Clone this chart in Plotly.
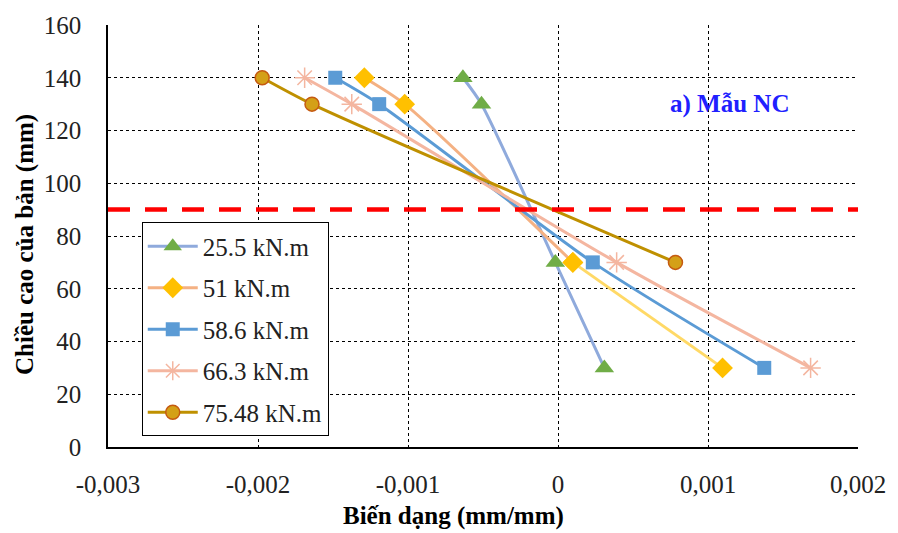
import plotly.graph_objects as go

# ---- data ----
heights4 = [140, 130, 70, 30]
heights3 = [140, 130, 70]
s_255 = [-0.000634, -0.000510, -0.000018, 0.000309]
s_51 = [-0.001291, -0.001022, 0.000099, 0.001097]
s_586 = [-0.001485, -0.001192, 0.000232, 0.001375]
s_663 = [-0.001689, -0.001375, 0.000391, 0.001684]
s_7548 = [-0.001972, -0.001640, 0.000783]
neutral_axis = 90
x_ticks = [-0.003, -0.002, -0.001, 0, 0.001, 0.002]
x_tick_labels = ["-0,003", "-0,002", "-0,001", "0", "0,001", "0,002"]
y_ticks = [0, 20, 40, 60, 80, 100, 120, 140, 160]

FONT = "Liberation Serif"
FS = 25
SM = 0.7

fig = go.Figure()

fig.add_trace(go.Scatter(
    x=s_255, y=heights4, name="25.5 kN.m", legendgroup="a",
    mode="lines+markers", line=dict(color="#8FAADC", width=3, shape="spline", smoothing=SM),
    marker=dict(symbol="triangle-up", size=17, color="#70AD47")))

fig.add_trace(go.Scatter(
    x=s_51[:3], y=heights4[:3], name="51 kN.m", legendgroup="b",
    mode="lines+markers", line=dict(color="#F4B183", width=3, shape="spline", smoothing=SM),
    marker=dict(symbol="diamond", size=16, color="#FFC000")))
fig.add_trace(go.Scatter(
    x=s_51[2:], y=heights4[2:], name="51 kN.m", legendgroup="b", showlegend=False,
    mode="lines+markers", line=dict(color="#FFD966", width=3),
    marker=dict(symbol="diamond", size=16, color="#FFC000")))

fig.add_trace(go.Scatter(
    x=s_586, y=heights4, name="58.6 kN.m", legendgroup="c",
    mode="lines+markers", line=dict(color="#5B9BD5", width=3, shape="spline", smoothing=SM),
    marker=dict(symbol="square", size=14, color="#5B9BD5")))

fig.add_trace(go.Scatter(
    x=s_663, y=heights4, name="66.3 kN.m", legendgroup="d",
    mode="lines+markers", line=dict(color="#F4B6A0", width=3, shape="spline", smoothing=SM),
    marker=dict(symbol="asterisk-open", size=17, color="#F4B6A0",
                line=dict(color="#F4B6A0", width=1.5))))

fig.add_trace(go.Scatter(
    x=s_7548, y=heights3, name="75.48 kN.m", legendgroup="e",
    mode="lines+markers", line=dict(color="#BF9000", width=3, shape="spline", smoothing=SM),
    marker=dict(symbol="circle", size=14, color="#D4A017",
                line=dict(color="#C55A11", width=1.5))))

fig.add_hline(y=neutral_axis, line=dict(color="#FF0000", width=4.5, dash="22px,15px"))

fig.add_annotation(x=0.00114, y=130, xref="x", yref="y", text="<b>a) Mẫu NC</b>",
                   showarrow=False, font=dict(family=FONT, size=FS, color="#2020FF"))

fig.add_annotation(x=0.461, y=-0.163, xref="paper", yref="paper", text="<b>Biến dạng (mm/mm)</b>",
                   showarrow=False, yanchor="middle", font=dict(family=FONT, size=FS, color="black"))
fig.add_annotation(x=-0.11, y=0.48, xref="paper", yref="paper", text="<b>Chiều cao của bản (mm)</b>",
                   showarrow=False, textangle=-90, xanchor="center", yanchor="middle",
                   font=dict(family=FONT, size=FS, color="black"))

fig.update_xaxes(range=[-0.003, 0.002], tickvals=x_ticks, ticktext=x_tick_labels,
                 showgrid=True, gridcolor="black", griddash="dot", gridwidth=1,
                 zeroline=False, showline=True, linecolor="black", linewidth=1.5,
                 ticks="outside", ticklen=14, tickcolor="rgba(0,0,0,0)",
                 tickfont=dict(family=FONT, size=FS, color="#222"))
fig.update_yaxes(range=[0, 160], tickvals=y_ticks,
                 showgrid=True, gridcolor="black", griddash="dot", gridwidth=1,
                 zeroline=False, showline=True, linecolor="black", linewidth=1.5,
                 ticks="outside", ticklen=20, tickcolor="rgba(0,0,0,0)",
                 tickfont=dict(family=FONT, size=FS, color="#222"))

fig.update_layout(
    width=898, height=533,
    margin=dict(l=108, r=35, t=18, b=86),
    plot_bgcolor="white", paper_bgcolor="white",
    font=dict(family=FONT, size=FS, color="black"),
    legend=dict(x=0.045, y=0.532, xanchor="left", yanchor="top",
                bgcolor="white", bordercolor="black", borderwidth=1,
                font=dict(family=FONT, size=FS, color="#222"),
                traceorder="grouped", tracegroupgap=6, itemwidth=50),
)

fig.write_html("out.html", config={"displayModeBar": False},
               post_script="document.body.style.margin='0';")
